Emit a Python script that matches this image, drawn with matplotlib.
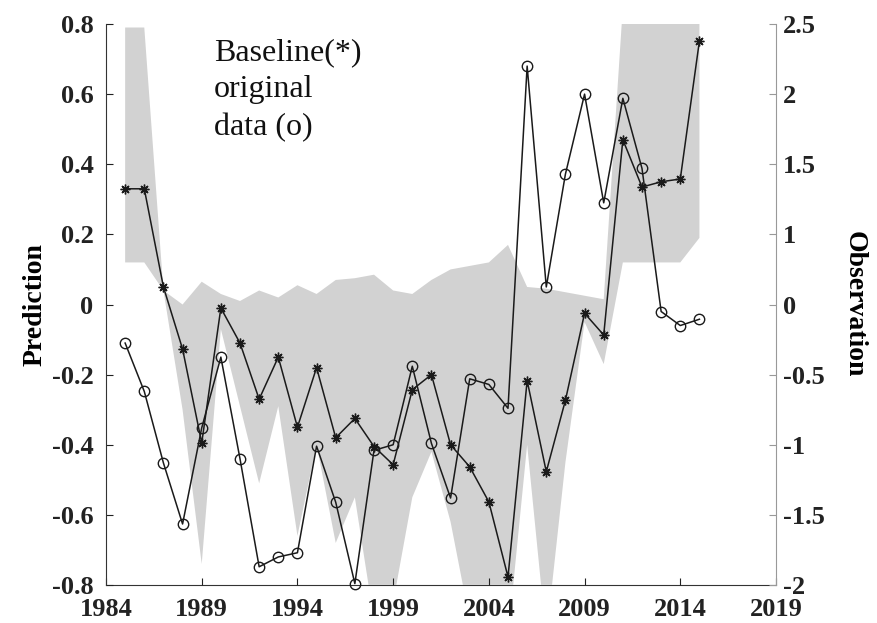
import numpy as np
import matplotlib
matplotlib.use("Agg")
import matplotlib.pyplot as plt
from matplotlib.ticker import FixedLocator, FixedFormatter

# ---- data ----
years = list(range(1985, 2016))

baseline = [0.33, 0.33, 0.05, -0.127, -0.395, -0.01, -0.11, -0.27, -0.15, -0.35,
            -0.18, -0.38, -0.325, -0.405, -0.457, -0.243, -0.20, -0.40, -0.463, -0.563,
            -0.777, -0.217, -0.477, -0.273, -0.025, -0.087, 0.47, 0.335, 0.35, 0.358,
            0.752]

# observation, in units of the right-hand axis scale
original = [-0.275, -0.62, -1.13, -1.565, -0.88, -0.375, -1.10, -1.87, -1.80, -1.77,
            -1.01, -1.41, -1.99, -1.04, -1.00, -0.44, -0.99, -1.38, -0.53, -0.57,
            -0.74, 1.70, 0.125, 0.93, 1.50, 0.725, 1.47, 0.97, -0.05, -0.15,
            -0.105]

band_upper = [0.79, 0.79, 0.04, 0.00, 0.065, 0.03, 0.01, 0.04, 0.02, 0.055,
              0.03, 0.07, 0.075, 0.085, 0.04, 0.03, 0.07, 0.10, 0.11, 0.12,
              0.17, 0.05, 0.045, 0.035, 0.025, 0.015, 0.85, 0.85, 0.85, 0.85,
              0.85]
band_lower = [0.12, 0.12, 0.04, -0.30, -0.74, -0.07, -0.29, -0.51, -0.29, -0.66,
              -0.40, -0.68, -0.55, -0.90, -0.85, -0.55, -0.42, -0.62, -0.90, -0.90,
              -0.95, -0.40, -0.95, -0.45, -0.05, -0.17, 0.12, 0.12, 0.12, 0.12,
              0.19]

x_ticks = [1984, 1989, 1994, 1999, 2004, 2009, 2014, 2019]
left_ticks = [-0.8, -0.6, -0.4, -0.2, 0, 0.2, 0.4, 0.6, 0.8]
left_labels = ['-0.8', '-0.6', '-0.4', '-0.2', '0', '0.2', '0.4', '0.6', '0.8']
right_ticks = [-2, -1.5, -1, -0.5, 0, 0.5, 1, 1.5, 2]
right_labels = ['-2', '-1.5', '-1', '-0.5', '0', '1', '1.5', '2', '2.5']

# ---- figure ----
fig = plt.figure(figsize=(8.77, 6.23), dpi=100)
ax = fig.add_axes([106/877, 1-585/623, (776-106)/877, (585-24)/623])
ax2 = ax.twinx()

serif = ['Liberation Serif', 'DejaVu Serif']
TFS = 19

ax.fill_between(years, band_lower, band_upper, color='#d2d2d2', linewidth=0, zorder=1)
ax.plot(years, baseline, color='#1a1a1a', linewidth=1.1, marker=(8, 2, 0),
        markersize=7, markeredgewidth=1.0, zorder=3, clip_on=False)
ax2.plot(years, original, color='#1a1a1a', linewidth=1.1, marker='o',
         markersize=7.5, markerfacecolor='none', markeredgewidth=1.0,
         zorder=3, clip_on=False)

ax.set_xlim(1984, 2019)
ax.set_ylim(-0.8, 0.8)
ax2.set_ylim(-2, 2)

ax.xaxis.set_major_locator(FixedLocator(x_ticks))
ax.xaxis.set_major_formatter(FixedFormatter([str(t) for t in x_ticks]))
ax.yaxis.set_major_locator(FixedLocator(left_ticks))
ax.yaxis.set_major_formatter(FixedFormatter(left_labels))
ax2.yaxis.set_major_locator(FixedLocator(right_ticks))
ax2.yaxis.set_major_formatter(FixedFormatter(right_labels))
for lab in ax.get_xticklabels() + ax.get_yticklabels() + ax2.get_yticklabels():
    lab.set_fontfamily(serif); lab.set_fontweight('bold'); lab.set_fontsize(TFS)

ax.tick_params(axis='both', direction='in', length=5, width=0.8, colors='#222222')
ax.tick_params(axis='x', pad=9)
ax.tick_params(axis='y', pad=9)
ax2.tick_params(axis='y', direction='in', length=5, width=0.8, colors='#222222',
                pad=5)
ax2.tick_params(axis='y', color='#999999')

for a in (ax, ax2):
    a.spines['top'].set_visible(False)
ax.spines['right'].set_visible(False)
ax2.spines['left'].set_visible(False)
ax2.spines['bottom'].set_visible(False)
ax.spines['left'].set_color('#333333')
ax.spines['bottom'].set_color('#333333')
ax2.spines['right'].set_color('#999999')
ax.spines['left'].set_zorder(5)
ax.spines['bottom'].set_zorder(0.5)

ax.set_ylabel('Prediction', fontfamily=serif, fontweight='bold', fontsize=20, labelpad=3)
ax2.set_ylabel('Observation', fontfamily=serif, fontweight='bold', fontsize=20,
               rotation=-90, labelpad=30)

fig.text(214/877, 1-38/623, 'Baseline(*)\noriginal\ndata (o)', ha='left', va='top',
         fontfamily=serif, fontsize=23, linespacing=1.38, color='#111111')

fig.savefig('out.png', dpi=100)
